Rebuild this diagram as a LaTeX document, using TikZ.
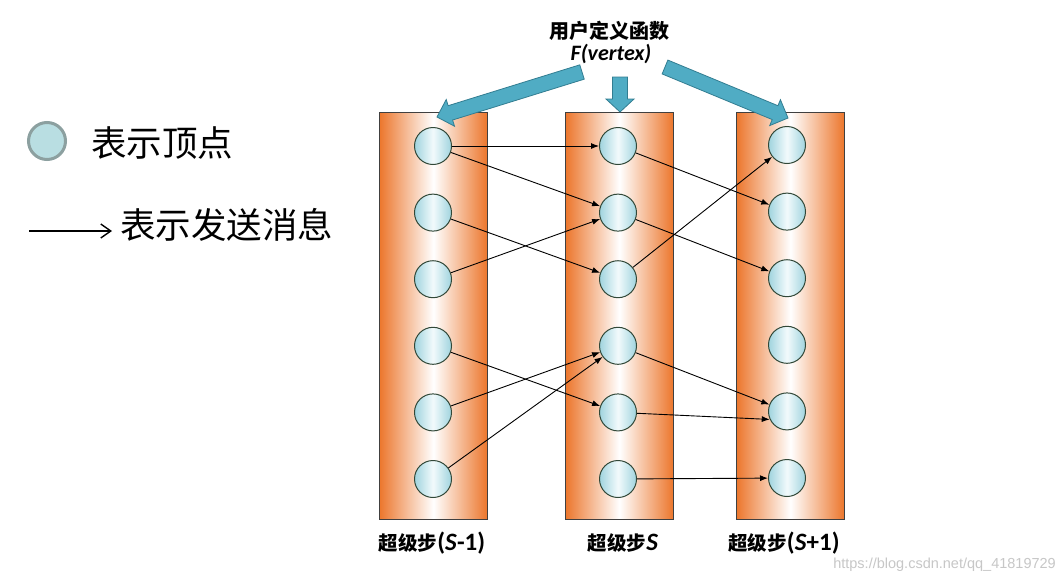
\documentclass[tikz,border=0pt]{standalone}
\usepackage{fontspec}
\newfontfamily\cjkfont{Noto Sans CJK SC}
\newfontfamily\latfont{Carlito}
\newfontfamily\wmfont{Liberation Sans}
\usetikzlibrary{calc,arrows.meta}
\definecolor{colorange}{RGB}{236,118,44}
\definecolor{vfill}{RGB}{160,212,222}
\definecolor{vmid}{RGB}{242,250,252}
\definecolor{vborder}{RGB}{50,72,56}
\definecolor{fblue}{RGB}{80,172,196}
\definecolor{fbord}{RGB}{50,125,145}
\definecolor{legfill}{RGB}{185,222,226}
\definecolor{legbord}{RGB}{140,160,160}
\newcommand\fatarrow[5]{%
  \coordinate (fh) at ($(#2)!#5!(#1)$);
  \draw[fat] ($(#1)!#3!90:(#2)$) -- ($(fh)!#3!90:(#2)$) -- ($(fh)!#4!90:(#2)$) -- (#2)
    -- ($(fh)!#4!-90:(#2)$) -- ($(fh)!#3!-90:(#2)$) -- ($(#1)!#3!-90:(#2)$) -- cycle;}
\begin{document}
\begin{tikzpicture}[x=1pt,y=-1pt,
  column/.style={draw=black!75, line width=0.8pt, left color=colorange, right color=colorange, middle color=white, minimum width=108pt, minimum height=407pt, anchor=north west, inner sep=0pt},
  vertex/.style={circle, draw=vborder, line width=1pt, minimum size=37pt, inner sep=0pt, left color=vfill, right color=vfill, middle color=vmid},
  msg/.style={-{Latex[length=8pt,width=6pt]}, line width=0.9pt, black},
  fat/.style={fill=fblue, draw=fbord, line width=0.8pt},
  steplabel/.style={inner sep=0pt},
  cjkstep/.style={},
  legendtext/.style={anchor=west, inner sep=0pt, font=\cjkfont\fontsize{35.5}{38}\selectfont}]
\useasboundingbox (0,0) rectangle (1063,582);
\fill[white] (0,0) rectangle (1063,582);
% columns
\node[column] (col1) at (379,112) {};
\node[column] (col2) at (565,112) {};
\node[column] (col3) at (736,112) {};
% vertices
\foreach \i in {1,...,6}{
  \node[vertex] (a\i) at (433,{146+66.6*(\i-1)}) {};
  \node[vertex] (b\i) at (618,{146+66.6*(\i-1)}) {};
  \node[vertex] (c\i) at (787,{145+66.6*(\i-1)}) {};
}
% messages
\draw[msg] (a1) -- (b1);
\draw[msg] (a1) -- (b2);
\draw[msg] (a2) -- (b3);
\draw[msg] (a3) -- (b2);
\draw[msg] (a4) -- (b5);
\draw[msg] (a5) -- (b4);
\draw[msg] (a6) -- (b4);
\draw[msg] (b1) -- (c2);
\draw[msg] (b2) -- (c3);
\draw[msg] (b3) -- (c1);
\draw[msg] (b4) -- (c5);
\draw[msg] (b5) -- (c5.205);
\draw[msg] (b6) -- (c6);
% fat arrows
\coordinate (lt) at (582,72);  \coordinate (lh) at (437,117);
\coordinate (mt) at (620,77);  \coordinate (mh) at (620,112);
\coordinate (rt) at (665,67);  \coordinate (rh) at (788,118);
\fatarrow{lt}{lh}{7.5pt}{14pt}{14pt}
\fatarrow{mt}{mh}{7.5pt}{14pt}{13pt}
\fatarrow{rt}{rh}{7.5pt}{14pt}{14pt}
% top labels
\node[font=\cjkfont\bfseries\fontsize{20}{22}\selectfont, inner sep=0pt] (ufn) at (609,31) {用户定义函数};
\node[font=\latfont\bfseries\itshape\fontsize{22}{24}\selectfont, inner sep=0pt] (fv) at (611,54) {F(vertex)};
% step labels
\node[steplabel] (l1) at (432,543) {\cjkfont\bfseries\fontsize{19.5}{24}\selectfont 超级步\latfont\bfseries\fontsize{25}{26}\selectfont(\textit{S}-1)};
\node[steplabel] (l2) at (623,543) {\cjkfont\bfseries\fontsize{19.5}{24}\selectfont 超级步\latfont\bfseries\fontsize{25}{26}\selectfont\textit{S}};
\node[steplabel] (l3) at (784,543) {\cjkfont\bfseries\fontsize{19.5}{24}\selectfont 超级步\latfont\bfseries\fontsize{25}{26}\selectfont(\textit{S}+1)};
% legend
\node[circle, draw=legbord, line width=3pt, fill=legfill, minimum size=37pt, inner sep=0pt] (lv) at (47,141) {};
\node[legendtext] (lvt) at (91,143) {表示顶点};
\coordinate (la0) at (29,231);
\coordinate (la1) at (112,231);
\draw[-{Straight Barb[length=10pt,width=14pt]}, line width=1.4pt] (la0) -- (la1);
\node[legendtext] (lmt) at (120,225) {表示发送消息};
% watermark
\node[anchor=east, inner sep=0pt, font=\wmfont\fontsize{14.5}{16}\selectfont, text=black!22] (wm) at (1056,565) {https://blog.csdn.net/qq\_41819729};
\end{tikzpicture}
\end{document}
